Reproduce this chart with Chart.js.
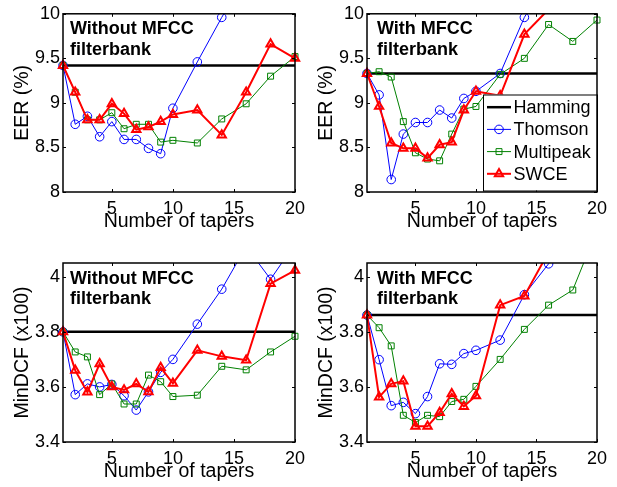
<!DOCTYPE html>
<html>
<head>
<meta charset="utf-8">
<script src="https://cdn.jsdelivr.net/npm/chart.js@4.4.0/dist/chart.umd.min.js"></script>
<style>
  html, body { margin: 0; padding: 0; background: #fff; }
  #wrap { position: relative; width: 617px; height: 487px; }
  #wrap canvas { position: absolute; left: 0; top: 0; }
</style>
</head>
<body>
<div id="wrap">
  <canvas id="eerNoMfcc" width="617" height="487"></canvas>
  <canvas id="eerMfcc" width="617" height="487"></canvas>
  <canvas id="dcfNoMfcc" width="617" height="487"></canvas>
  <canvas id="dcfMfcc" width="617" height="487"></canvas>
</div>
<script>
const tapers = [1, 2, 3, 4, 5, 6, 7, 8, 9, 10, 12, 14, 16, 18, 20];
const xTicks = [5, 10, 15, 20];
const eerTicks = [8, 8.5, 9, 9.5, 10];
const dcfTicks = [3.4, 3.6, 3.8, 4];

// EER (%), without MFCC filterbank
const eerNoMfccHamming = 9.42;
const eerNoMfccThomson = [9.42, 8.76, 8.85, 8.62, 8.79, 8.59, 8.59, 8.49, 8.43, 8.94, 9.46, 9.96, 10.42, 10.8, 11.2];
const eerNoMfccMultipeak = [9.42, 9.12, 8.81, 8.81, 8.89, 8.71, 8.76, 8.76, 8.56, 8.58, 8.55, 8.82, 8.99, 9.30, 9.52];
const eerNoMfccSwce = [9.42, 9.12, 8.81, 8.81, 8.99, 8.88, 8.70, 8.73, 8.79, 8.87, 8.92, 8.64, 9.12, 9.66, 9.50];

// EER (%), with MFCC filterbank
const eerMfccHamming = 9.33;
const eerMfccThomson = [9.33, 9.09, 8.14, 8.65, 8.78, 8.78, 8.92, 8.83, 9.05, 9.13, 9.33, 9.96, 10.4, 10.8, 11.2];
const eerMfccMultipeak = [9.33, 9.35, 9.29, 8.79, 8.44, 8.37, 8.35, 8.65, 8.93, 8.96, 9.32, 9.50, 9.88, 9.69, 9.93];
const eerMfccSwce = [9.33, 8.96, 8.55, 8.49, 8.49, 8.38, 8.53, 8.56, 8.92, 9.13, 9.08, 9.77, 10.05, 10.3, 10.5];

// MinDCF (x100), without MFCC filterbank
const dcfNoMfccHamming = 3.80;
const dcfNoMfccThomson = [3.80, 3.572, 3.611, 3.60, 3.609, 3.568, 3.516, 3.582, 3.653, 3.70, 3.828, 3.955, 4.11, 3.991, 4.12];
const dcfNoMfccMultipeak = [3.80, 3.727, 3.709, 3.572, 3.611, 3.538, 3.538, 3.643, 3.619, 3.565, 3.570, 3.675, 3.662, 3.727, 3.784];
const dcfNoMfccSwce = [3.80, 3.66, 3.581, 3.684, 3.60, 3.589, 3.611, 3.582, 3.67, 3.613, 3.733, 3.711, 3.697, 3.975, 4.023];

// MinDCF (x100), with MFCC filterbank
const dcfMfccHamming = 3.861;
const dcfMfccThomson = [3.861, 3.699, 3.532, 3.544, 3.503, 3.565, 3.684, 3.682, 3.721, 3.733, 3.77, 3.935, 4.047, 4.2, 4.3];
const dcfMfccMultipeak = [3.861, 3.815, 3.749, 3.497, 3.471, 3.497, 3.492, 3.547, 3.555, 3.602, 3.70, 3.809, 3.897, 3.952, 4.17];
const dcfMfccSwce = [3.861, 3.563, 3.611, 3.621, 3.457, 3.457, 3.507, 3.575, 3.529, 3.568, 3.897, 3.930, 4.09, 4.2, 4.3];

const PAGE_W = 617, PAGE_H = 487;
const Y_AXIS_W = 52, X_AXIS_H = 41;
const FONT = '"Liberation Sans", Arial, Helvetica, sans-serif';

Chart.defaults.font.family = FONT;
Chart.defaults.font.size = 18;
Chart.defaults.color = '#000';

function drawMarker(ctx, style, x, y, r) {
    ctx.beginPath();
    if (style === 'circle') {
        ctx.arc(x, y, r, 0, Math.PI * 2);
    } else if (style === 'rect') {
        const s = r * Math.SQRT1_2;
        ctx.rect(x - s, y - s, 2 * s, 2 * s);
    } else if (style === 'triangle') {
        ctx.moveTo(x, y - r);
        ctx.lineTo(x + r * Math.sin(2 * Math.PI / 3), y - r * Math.cos(2 * Math.PI / 3));
        ctx.lineTo(x + r * Math.sin(4 * Math.PI / 3), y - r * Math.cos(4 * Math.PI / 3));
        ctx.closePath();
    }
    ctx.stroke();
}

// matlab style box: inward ticks on all sides, note text, optional legend
function boxPlugin(note, noteX, showLegend) {
    return {
        id: 'matlabBox',
        afterDatasetsDraw(chart) {
            const { ctx, chartArea: a, scales: { x, y } } = chart;
            ctx.save();
            ctx.strokeStyle = '#000';
            ctx.lineWidth = 1;
            ctx.beginPath();
            x.ticks.forEach(t => {
                const px = Math.round(x.getPixelForValue(t.value)) + 0.5;
                ctx.moveTo(px, a.bottom); ctx.lineTo(px, a.bottom - 3);
                ctx.moveTo(px, a.top); ctx.lineTo(px, a.top + 3);
            });
            y.ticks.forEach(t => {
                const py = Math.round(y.getPixelForValue(t.value)) + 0.5;
                ctx.moveTo(a.left, py); ctx.lineTo(a.left + 3, py);
                ctx.moveTo(a.right, py); ctx.lineTo(a.right - 3, py);
            });
            ctx.stroke();

            ctx.fillStyle = '#000';
            ctx.font = 'bold 18px ' + FONT;
            ctx.textBaseline = 'alphabetic';
            ctx.textAlign = 'left';
            note.forEach((txt, i) => ctx.fillText(txt, a.left + noteX, a.top + 20.6 + i * 20.7));

            if (showLegend) {
                const lw = 114, lh = 96;
                const lx = a.right - lw, ly = a.bottom - lh - 1.5;
                ctx.fillStyle = '#fff';
                ctx.fillRect(lx, ly, lw, lh);
                ctx.lineWidth = 1;
                ctx.strokeStyle = '#000';
                ctx.strokeRect(lx + 0.5, ly + 0.5, lw, lh);
                chart.data.datasets.forEach((ds, i) => {
                    const cy = ly + 12.7 + i * 22.2;
                    ctx.strokeStyle = ds.borderColor;
                    ctx.lineWidth = ds.borderWidth;
                    ctx.beginPath();
                    ctx.moveTo(lx + 4, cy); ctx.lineTo(lx + 28, cy);
                    ctx.stroke();
                    if (ds.pointRadius > 0) {
                        ctx.lineWidth = ds.pointBorderWidth;
                        drawMarker(ctx, ds.pointStyle, lx + 16, cy, ds.pointRadius);
                    }
                    ctx.fillStyle = '#000';
                    ctx.font = '18px ' + FONT;
                    ctx.textBaseline = 'middle';
                    ctx.fillText(ds.label, lx + 30.6, cy + 1);
                });
            }

            ctx.strokeStyle = '#000';
            ctx.lineWidth = 1.5;
            ctx.strokeRect(a.left, a.top, a.right - a.left, a.bottom - a.top);
            ctx.restore();
        }
    };
}

function makeChart(id, area, yTicks, yMin, yMax, yTitle, note, noteX, hamming, thomson, multipeak, swce, showLegend) {
    const clip = { left: 8, right: 8, top: 0, bottom: 0 };
    const pts = ys => tapers.map((t, i) => ({ x: t, y: ys[i] }));
    new Chart(document.getElementById(id).getContext('2d'), {
        type: 'line',
        data: {
            datasets: [{
                label: 'Hamming',
                data: [{ x: tapers[0], y: hamming }, { x: tapers[tapers.length - 1], y: hamming }],
                borderColor: '#000', borderWidth: 2.5, pointRadius: 0, order: 4, clip
            }, {
                label: 'Thomson',
                data: pts(thomson),
                borderColor: '#0000ff', borderWidth: 1,
                pointStyle: 'circle', pointRadius: 4.3, pointBorderWidth: 1,
                pointBorderColor: '#0000ff', pointBackgroundColor: 'rgba(0,0,0,0)', order: 3, clip
            }, {
                label: 'Multipeak',
                data: pts(multipeak),
                borderColor: '#008000', borderWidth: 1,
                pointStyle: 'rect', pointRadius: 4.2, pointBorderWidth: 1,
                pointBorderColor: '#008000', pointBackgroundColor: 'rgba(0,0,0,0)', order: 2, clip
            }, {
                label: 'SWCE',
                data: pts(swce),
                borderColor: '#ff0000', borderWidth: 2,
                pointStyle: 'triangle', pointRadius: 4.8, pointBorderWidth: 2,
                pointBorderColor: '#ff0000', pointBackgroundColor: 'rgba(0,0,0,0)', order: 1, clip
            }]
        },
        options: {
            responsive: false,
            animation: false,
            events: [],
            layout: {
                padding: {
                    left: area.left - Y_AXIS_W,
                    top: area.top,
                    right: PAGE_W - area.right,
                    bottom: PAGE_H - area.bottom - X_AXIS_H
                }
            },
            plugins: { legend: { display: false }, tooltip: { enabled: false } },
            scales: {
                x: {
                    type: 'linear', min: 1, max: 20,
                    afterBuildTicks: s => { s.ticks = xTicks.map(v => ({ value: v })); },
                    afterFit: s => { s.height = X_AXIS_H; },
                    grid: { display: false, drawTicks: false },
                    border: { display: false },
                    ticks: { padding: 6, maxRotation: 0 },
                    title: { display: true, text: 'Number of tapers', padding: 0, font: { size: 19.5 } }
                },
                y: {
                    type: 'linear', min: yMin, max: yMax,
                    afterBuildTicks: s => { s.ticks = yTicks.map(v => ({ value: v })); },
                    afterFit: s => { s.width = Y_AXIS_W; },
                    grid: { display: false, drawTicks: false },
                    border: { display: false },
                    ticks: { padding: 3, callback: v => String(Math.round(v * 100) / 100) },
                    title: { display: true, text: yTitle, padding: 0, font: { size: 19.5 } }
                }
            }
        },
        plugins: [boxPlugin(note, noteX, showLegend)]
    });
}

makeChart('eerNoMfcc', { left: 63, top: 13, right: 295, bottom: 192 }, eerTicks, 8, 10, 'EER (%)',
    ['Without MFCC', 'filterbank'], 7, eerNoMfccHamming, eerNoMfccThomson, eerNoMfccMultipeak, eerNoMfccSwce, false);
makeChart('eerMfcc', { left: 367, top: 13, right: 597, bottom: 192 }, eerTicks, 8, 10, 'EER (%)',
    ['With MFCC', 'filterbank'], 10, eerMfccHamming, eerMfccThomson, eerMfccMultipeak, eerMfccSwce, true);
makeChart('dcfNoMfcc', { left: 63, top: 263, right: 295, bottom: 442 }, dcfTicks, 3.4, 4.05, 'MinDCF (x100)',
    ['Without MFCC', 'filterbank'], 7, dcfNoMfccHamming, dcfNoMfccThomson, dcfNoMfccMultipeak, dcfNoMfccSwce, false);
makeChart('dcfMfcc', { left: 367, top: 263, right: 597, bottom: 442 }, dcfTicks, 3.4, 4.05, 'MinDCF (x100)',
    ['With MFCC', 'filterbank'], 10, dcfMfccHamming, dcfMfccThomson, dcfMfccMultipeak, dcfMfccSwce, false);
</script>
</body>
</html>
